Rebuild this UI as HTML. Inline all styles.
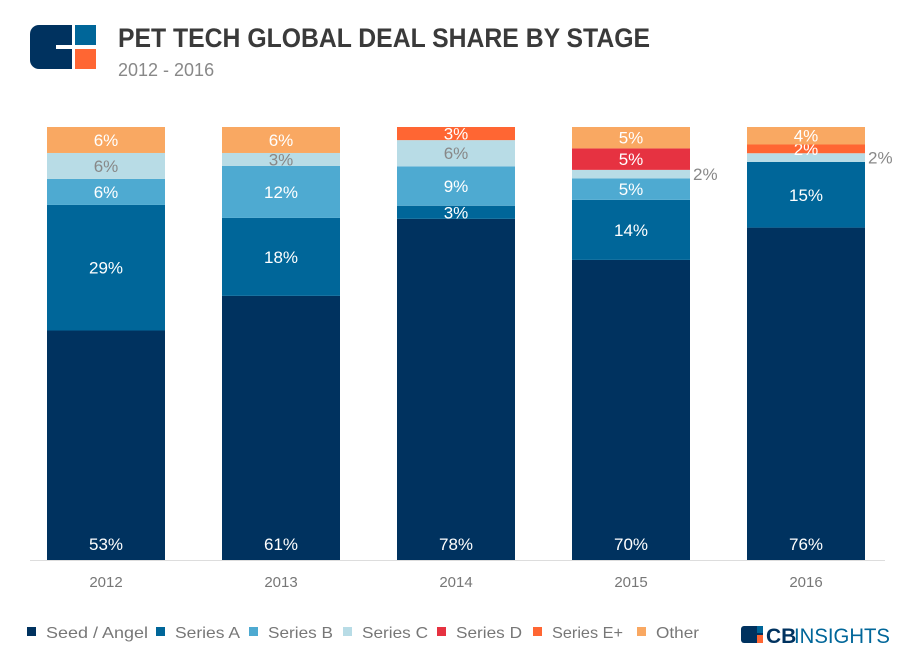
<!DOCTYPE html>
<html><head><meta charset="utf-8"><style>
body{margin:0;background:#fff;font-family:"Liberation Sans",sans-serif;}
#wrap{position:relative;width:911px;height:661px;overflow:hidden}
</style></head><body><div id="wrap">
<svg width="911" height="661">
<g>
<rect x="30" y="25" width="66" height="44" rx="9" fill="#00325f"/>
<rect x="75" y="25" width="21" height="21" fill="#006699"/>
<rect x="75" y="49" width="21" height="20" fill="#ff6633"/>
<rect x="72" y="25" width="3" height="44" fill="#fff"/>
<rect x="56" y="45" width="40" height="4" fill="#fff"/>
</g>
<text x="118" y="47" font-size="27" font-weight="bold" fill="#3a3a3a" textLength="532" lengthAdjust="spacingAndGlyphs">PET TECH GLOBAL DEAL SHARE BY STAGE</text>
<text x="118" y="76" font-size="18" fill="#888">2012 - 2016</text>
<line x1="30" y1="560.5" x2="885" y2="560.5" stroke="#ddd"/>
<g id="bars"></g>
<g id="legend"></g>
<g>
<rect x="741" y="626" width="22" height="17" rx="3" fill="#00325f"/>
<rect x="757" y="626" width="6" height="7" fill="#006699"/><rect x="757" y="635" width="6" height="8" fill="#ff6633"/>
<text x="766" y="643" font-size="21" font-weight="bold" fill="#00325f">CB</text>
<text x="794" y="643" font-size="21" fill="#006699" textLength="96" lengthAdjust="spacingAndGlyphs">INSIGHTS</text>
</g>
</svg></div>
<script>
const years=["2012","2013","2014","2015","2016"];
const series=["Seed / Angel","Series A","Series B","Series C","Series D","Series E+","Other"];
const seed=[53,61,78,70,76];
const seriesA=[29,18,3,14,15];
const seriesB=[6,12,9,5,0];
const seriesC=[6,3,6,2,2];
const seriesD=[0,0,0,5,0];
const seriesE=[0,0,3,0,2];
const other=[6,6,0,5,4];
const colors=["#00325f","#006699","#4eaad1","#b8dce6","#e63241","#ff6633","#f9a862"];
const data=[seed,seriesA,seriesB,seriesC,seriesD,seriesE,other];
const NS="http://www.w3.org/2000/svg";
const top0=127,bot=560,bw=118;
function xPos(i){return 47+i*175;}
function yScale(frac){return bot-frac*(bot-top0);}
const g=document.getElementById('bars');
function mk(t,a){const e=document.createElementNS(NS,t);for(const k in a)e.setAttribute(k,a[k]);return e;}
years.forEach((y,i)=>{
  const tot=data.reduce((s,a)=>s+a[i],0);
  let cum=0;
  data.forEach((arr,s)=>{
    const v=arr[i];if(!v)return;
    const y0=yScale(cum/tot),y1=yScale((cum+v)/tot);cum+=v;
    const r=mk('rect',{x:xPos(i),y:y1,width:bw,height:y0-y1,fill:colors[s]});
    
    
    g.appendChild(r);
    const small=(y0-y1)<12;
    let tx=xPos(i)+bw/2,ty=s===0?y0-10:(y0+y1)/2+6,anchor='middle',fill=s===3?'#888':'#fff';
    if(small&&s===3){tx=xPos(i)+bw+3;anchor='start';fill='#888';ty=(y0+y1)/2+6;}
    const t=mk('text',{x:tx,y:ty,'text-anchor':anchor,'font-size':17,fill:fill});
    t.textContent=v+'%';
    
    
    g.appendChild(t);
  });
  const yl=mk('text',{x:xPos(i)+bw/2,y:587,'text-anchor':'middle','font-size':15,fill:'#777'});
  yl.textContent=y;
  
  
  g.appendChild(yl);
});
const lg=document.getElementById('legend');
const lx=[27,156,249,343,437,533,637];
const lw=[102,65,65,66,66,71,43];
series.forEach((s,k)=>{
  const r=mk('rect',{x:lx[k],y:627,width:9,height:9,fill:colors[k]});
  
  
  lg.appendChild(r);
  const t=mk('text',{x:lx[k]+19,y:638,'font-size':16,fill:'#777',textLength:lw[k],lengthAdjust:'spacingAndGlyphs'});
  t.textContent=s;
  
  
  lg.appendChild(t);
});
</script></body></html>
